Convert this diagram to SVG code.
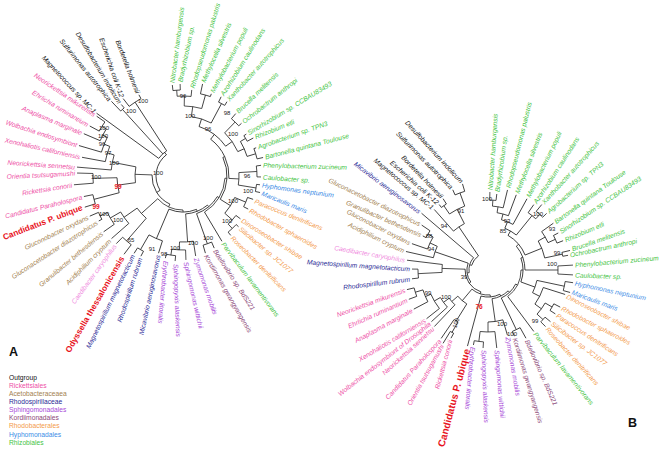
<svg xmlns="http://www.w3.org/2000/svg" width="661" height="451" viewBox="0 0 661 451">
<style>
.br circle,.br path{fill:none;stroke:#1a1a1a;stroke-width:0.75}
text{font-family:"Liberation Sans",Arial,sans-serif}
.l{font-size:6.7px;font-style:italic;dominant-baseline:central}
.e{text-anchor:end}
.big{font-size:8.4px;font-weight:bold;dominant-baseline:central}
.big2{font-size:10px;font-weight:bold;dominant-baseline:central}
.bs{font-size:6px;text-anchor:middle;dominant-baseline:central;fill:#222}
.bsr{font-size:6.5px;font-weight:bold;text-anchor:middle;dominant-baseline:central;fill:#e8141e}
.lg{font-size:6.7px}
.pl{font-size:12.5px;font-weight:bold}
.k{fill:#111}.p{fill:#ee4fa6}.cp{fill:#f08ce0}.w{fill:#a3814f}.d{fill:#2a2a96}.u{fill:#a84ad8}.m{fill:#8c4878}.o{fill:#f39a4b}.h{fill:#3c8ce6}.g{fill:#44c444}.r{fill:#e8141e}
</style>
<rect width="661" height="451" fill="#fff"/>

<g id="connectors-A" class="br" transform="translate(183 176)">
<circle r="90" stroke-dasharray="4.71 999" transform="rotate(226.2)"/>
<circle r="88" stroke-dasharray="14.13 999" transform="rotate(232.3)"/>
<circle r="30" stroke-dasharray="11 999" transform="rotate(216)"/>
<circle r="95" stroke-dasharray="10.78 999" transform="rotate(208.2)"/>
<circle r="90" stroke-dasharray="13.19 999" transform="rotate(203.1)"/>
<circle r="85" stroke-dasharray="15.87 999" transform="rotate(196.3)"/>
<circle r="79" stroke-dasharray="15.86 999" transform="rotate(190.5)"/>
<circle r="72" stroke-dasharray="15.33 999" transform="rotate(184.8)"/>
<circle r="90" stroke-dasharray="9.74 999" transform="rotate(175.4)"/>
<circle r="92" stroke-dasharray="9.47 999" transform="rotate(162.4)"/>
<circle r="66" stroke-dasharray="15.21 999" transform="rotate(165.3)"/>
<circle r="48" stroke-dasharray="15.92 999" transform="rotate(172)"/>
<circle r="92" stroke-dasharray="7.71 999" transform="rotate(151.9)"/>
<circle r="84" stroke-dasharray="13.78 999" transform="rotate(144.9)"/>
<circle r="72" stroke-dasharray="14.07 999" transform="rotate(138.8)"/>
<circle r="86" stroke-dasharray="11.41 999" transform="rotate(127)"/>
<circle r="56" stroke-dasharray="13.68 999" transform="rotate(131)"/>
<circle r="85" stroke-dasharray="6.82 999" transform="rotate(117.7)"/>
<circle r="68" stroke-dasharray="14.72 999" transform="rotate(107.6)"/>
<circle r="80" stroke-dasharray="9.49 999" transform="rotate(95.3)"/>
<circle r="74" stroke-dasharray="13.82 999" transform="rotate(88)"/>
<circle r="66" stroke-dasharray="13.82 999" transform="rotate(81)"/>
<circle r="72" stroke-dasharray="9.05 999" transform="rotate(66.6)"/>
<circle r="72" stroke-dasharray="11.06 999" transform="rotate(42.4)"/>
<circle r="66" stroke-dasharray="11.63 999" transform="rotate(36.7)"/>
<circle r="68" stroke-dasharray="10.09 999" transform="rotate(18.4)"/>
<circle r="56" stroke-dasharray="18.67 999" transform="rotate(22.6)"/>
<circle r="74" stroke-dasharray="7.23 999" transform="rotate(6.5)"/>
<circle r="74" stroke-dasharray="10.98 999" transform="rotate(-7.8)"/>
<circle r="56" stroke-dasharray="12.51 999" transform="rotate(-3.5)"/>
<circle r="76" stroke-dasharray="10.74 999" transform="rotate(-21.1)"/>
<circle r="73" stroke-dasharray="6.5 999" transform="rotate(-33.5)"/>
<circle r="67" stroke-dasharray="16.37 999" transform="rotate(-31)"/>
<circle r="75" stroke-dasharray="10.21 999" transform="rotate(-49.8)"/>
<circle r="60" stroke-dasharray="23.04 999" transform="rotate(-46)"/>
<circle r="82" stroke-dasharray="7.01 999" transform="rotate(-64.3)"/>
<circle r="84" stroke-dasharray="10.26 999" transform="rotate(-78)"/>
<circle r="86" stroke-dasharray="7.35 999" transform="rotate(-96.7)"/>
<circle r="80" stroke-dasharray="13.96 999" transform="rotate(-94.2)"/>
<circle r="70" stroke-dasharray="17.71 999" transform="rotate(-89)"/>
<circle r="60" stroke-dasharray="20.94 999" transform="rotate(-82)"/>
<circle r="52" stroke-dasharray="33.58 999" transform="rotate(-72)"/>
<circle r="46" stroke-dasharray="44.96 999" transform="rotate(-53)"/>
<circle r="44" stroke-dasharray="43.77 999" transform="rotate(-25)"/>
<circle r="42" stroke-dasharray="41.2 999" transform="rotate(3)"/>
<circle r="40" stroke-dasharray="27.37 999" transform="rotate(31)"/>
<circle r="38" stroke-dasharray="23.87 999" transform="rotate(50)"/>
<circle r="36" stroke-dasharray="28.27 999" transform="rotate(68)"/>
<circle r="34" stroke-dasharray="28.48 999" transform="rotate(90)"/>
<circle r="31" stroke-dasharray="36.25 999" transform="rotate(115)"/>
<circle r="27" stroke-dasharray="39.58 999" transform="rotate(148)"/>
<path d="M90 0H103.4" transform="rotate(226.2)"/>
<path d="M90 0H94.4" transform="rotate(229.2)"/>
<path d="M88 0H97.8" transform="rotate(232.3)"/>
<path d="M88 0H92.4" transform="rotate(241.5)"/>
<path d="M30 0H106.8" transform="rotate(216)"/>
<path d="M30 0H90" transform="rotate(227.7)"/>
<path d="M30 0H88" transform="rotate(237)"/>
<path d="M27 0H30" transform="rotate(232)"/>
<path d="M95 0H105" transform="rotate(214.7)"/>
<path d="M95 0H105.8" transform="rotate(208.2)"/>
<path d="M90 0H95" transform="rotate(211.5)"/>
<path d="M90 0H107.8" transform="rotate(203.1)"/>
<path d="M85 0H90" transform="rotate(207)"/>
<path d="M85 0H108.4" transform="rotate(196.3)"/>
<path d="M79 0H85" transform="rotate(202)"/>
<path d="M79 0H102.7" transform="rotate(190.5)"/>
<path d="M72 0H79" transform="rotate(197)"/>
<path d="M72 0H106.4" transform="rotate(184.8)"/>
<path d="M90 0H106" transform="rotate(181.6)"/>
<path d="M90 0H109.4" transform="rotate(175.4)"/>
<path d="M92 0H101.2" transform="rotate(168.3)"/>
<path d="M92 0H103" transform="rotate(162.4)"/>
<path d="M66 0H90" transform="rotate(178.5)"/>
<path d="M66 0H92" transform="rotate(165.3)"/>
<path d="M48 0H72" transform="rotate(191)"/>
<path d="M48 0H66" transform="rotate(172)"/>
<path d="M31 0H48" transform="rotate(182)"/>
<path d="M92 0H101.5" transform="rotate(156.7)"/>
<path d="M92 0H95.5" transform="rotate(151.9)"/>
<path d="M84 0H92" transform="rotate(154.3)"/>
<path d="M84 0H97" transform="rotate(144.9)"/>
<path d="M72 0H84" transform="rotate(150)"/>
<path d="M72 0H95" transform="rotate(138.8)"/>
<path d="M86 0H95" transform="rotate(134.6)"/>
<path d="M86 0H98" transform="rotate(127)"/>
<path d="M56 0H72" transform="rotate(145)"/>
<path d="M56 0H86" transform="rotate(131)"/>
<path d="M34 0H56" transform="rotate(138)"/>
<path d="M85 0H91.5" transform="rotate(122.3)"/>
<path d="M85 0H90.6" transform="rotate(117.7)"/>
<path d="M68 0H85" transform="rotate(120)"/>
<path d="M68 0H81" transform="rotate(107.6)"/>
<path d="M36 0H68" transform="rotate(113)"/>
<path d="M80 0H84" transform="rotate(102.1)"/>
<path d="M80 0H85.4" transform="rotate(95.3)"/>
<path d="M74 0H80" transform="rotate(98.7)"/>
<path d="M74 0H84" transform="rotate(88)"/>
<path d="M66 0H74" transform="rotate(93)"/>
<path d="M66 0H81" transform="rotate(81)"/>
<path d="M38 0H66" transform="rotate(86)"/>
<path d="M72 0H80.3" transform="rotate(73.8)"/>
<path d="M72 0H78.6" transform="rotate(66.6)"/>
<path d="M40 0H72" transform="rotate(70.2)"/>
<path d="M42 0H76" transform="rotate(59.2)"/>
<path d="M72 0H76.2" transform="rotate(51.2)"/>
<path d="M72 0H75.2" transform="rotate(42.4)"/>
<path d="M66 0H72" transform="rotate(46.8)"/>
<path d="M66 0H71.6" transform="rotate(36.7)"/>
<path d="M68 0H73.9" transform="rotate(18.4)"/>
<path d="M68 0H73.1" transform="rotate(26.9)"/>
<path d="M56 0H68" transform="rotate(22.6)"/>
<path d="M56 0H66" transform="rotate(41.7)"/>
<path d="M44 0H56" transform="rotate(32)"/>
<path d="M74 0H78.8" transform="rotate(12.1)"/>
<path d="M74 0H77.5" transform="rotate(6.5)"/>
<path d="M74 0H78" transform="rotate(0.7)"/>
<path d="M74 0H78.8" transform="rotate(-7.8)"/>
<path d="M56 0H74" transform="rotate(9.3)"/>
<path d="M56 0H74" transform="rotate(-3.5)"/>
<path d="M46 0H56" transform="rotate(3)"/>
<path d="M76 0H82.2" transform="rotate(-13)"/>
<path d="M76 0H78.4" transform="rotate(-21.1)"/>
<path d="M73 0H79.9" transform="rotate(-28.4)"/>
<path d="M73 0H75.9" transform="rotate(-33.5)"/>
<path d="M67 0H76" transform="rotate(-17)"/>
<path d="M67 0H73" transform="rotate(-31)"/>
<path d="M75 0H78.7" transform="rotate(-42)"/>
<path d="M75 0H81.7" transform="rotate(-49.8)"/>
<path d="M60 0H67" transform="rotate(-24)"/>
<path d="M60 0H75" transform="rotate(-46)"/>
<path d="M82 0H86.3" transform="rotate(-59.4)"/>
<path d="M82 0H87.9" transform="rotate(-64.3)"/>
<path d="M84 0H86.9" transform="rotate(-71)"/>
<path d="M84 0H94.1" transform="rotate(-78)"/>
<path d="M86 0H92" transform="rotate(-91.8)"/>
<path d="M86 0H91.6" transform="rotate(-96.7)"/>
<path d="M80 0H86" transform="rotate(-94.2)"/>
<path d="M80 0H86.5" transform="rotate(-84.2)"/>
<path d="M70 0H80" transform="rotate(-89)"/>
<path d="M70 0H84" transform="rotate(-74.5)"/>
<path d="M60 0H70" transform="rotate(-82)"/>
<path d="M60 0H82" transform="rotate(-62)"/>
<path d="M52 0H60" transform="rotate(-72)"/>
<path d="M52 0H60" transform="rotate(-35)"/>
<path d="M46 0H52" transform="rotate(-53)"/>
<path d="M44 0H46" transform="rotate(-25)"/>
<path d="M42 0H44" transform="rotate(3)"/>
<path d="M40 0H42" transform="rotate(31)"/>
<path d="M38 0H40" transform="rotate(50)"/>
<path d="M36 0H38" transform="rotate(68)"/>
<path d="M34 0H36" transform="rotate(90)"/>
<path d="M31 0H34" transform="rotate(115)"/>
<path d="M27 0H31" transform="rotate(148)"/>
</g>

<g id="connectors-B" class="br" transform="translate(488 270)">
<circle r="82" stroke-dasharray="10.3 999" transform="rotate(246.3)"/>
<circle r="78" stroke-dasharray="6.13 999" transform="rotate(233.3)"/>
<circle r="68" stroke-dasharray="17.21 999" transform="rotate(235.5)"/>
<circle r="52" stroke-dasharray="13.25 999" transform="rotate(228.4)"/>
<circle r="70" stroke-dasharray="7.94 999" transform="rotate(207.6)"/>
<circle r="64" stroke-dasharray="13.29 999" transform="rotate(199.1)"/>
<circle r="56" stroke-dasharray="12.02 999" transform="rotate(192.7)"/>
<circle r="70" stroke-dasharray="8.92 999" transform="rotate(173.4)"/>
<circle r="46" stroke-dasharray="7.95 999" transform="rotate(177)"/>
<circle r="76" stroke-dasharray="8.89 999" transform="rotate(159.7)"/>
<circle r="68" stroke-dasharray="12.82 999" transform="rotate(152.2)"/>
<circle r="62" stroke-dasharray="16.66 999" transform="rotate(141.6)"/>
<circle r="55" stroke-dasharray="11.9 999" transform="rotate(137.6)"/>
<circle r="48" stroke-dasharray="8.8 999" transform="rotate(133.5)"/>
<circle r="72" stroke-dasharray="3.77 999" transform="rotate(118.5)"/>
<circle r="60" stroke-dasharray="4.61 999" transform="rotate(120)"/>
<circle r="40" stroke-dasharray="11.87 999" transform="rotate(122)"/>
<circle r="72" stroke-dasharray="9.3 999" transform="rotate(93.6)"/>
<circle r="62" stroke-dasharray="14.82 999" transform="rotate(83.6)"/>
<circle r="52" stroke-dasharray="15.07 999" transform="rotate(73.4)"/>
<circle r="66" stroke-dasharray="8.52 999" transform="rotate(60.9)"/>
<circle r="74" stroke-dasharray="6.33 999" transform="rotate(39.6)"/>
<circle r="74" stroke-dasharray="7.62 999" transform="rotate(27.2)"/>
<circle r="66" stroke-dasharray="13.82 999" transform="rotate(30)"/>
<circle r="58" stroke-dasharray="18.63 999" transform="rotate(17.6)"/>
<circle r="78" stroke-dasharray="9.26 999" transform="rotate(8.5)"/>
<circle r="50" stroke-dasharray="13.09 999" transform="rotate(12)"/>
<circle r="70" stroke-dasharray="8.06 999" transform="rotate(-3.3)"/>
<circle r="76" stroke-dasharray="3.98 999" transform="rotate(-13.4)"/>
<circle r="74" stroke-dasharray="8.39 999" transform="rotate(-27.8)"/>
<circle r="66" stroke-dasharray="12.79 999" transform="rotate(-35.6)"/>
<circle r="58" stroke-dasharray="18.22 999" transform="rotate(-30)"/>
<circle r="76" stroke-dasharray="8.75 999" transform="rotate(-50.6)"/>
<circle r="70" stroke-dasharray="9.77 999" transform="rotate(-55)"/>
<circle r="70" stroke-dasharray="6.35 999" transform="rotate(-88.6)"/>
<circle r="64" stroke-dasharray="10.83 999" transform="rotate(-86)"/>
<circle r="58" stroke-dasharray="11.74 999" transform="rotate(-81)"/>
<circle r="52" stroke-dasharray="12.43 999" transform="rotate(-75)"/>
<circle r="45" stroke-dasharray="13.35 999" transform="rotate(-68)"/>
<circle r="40" stroke-dasharray="26.53 999" transform="rotate(-60)"/>
<circle r="37" stroke-dasharray="25.83 999" transform="rotate(-40)"/>
<circle r="35" stroke-dasharray="24.43 999" transform="rotate(-20)"/>
<circle r="33" stroke-dasharray="30.7 999" transform="rotate(0)"/>
<circle r="31" stroke-dasharray="20.34 999" transform="rotate(27)"/>
<circle r="29" stroke-dasharray="18.22 999" transform="rotate(46)"/>
<circle r="27" stroke-dasharray="19.37 999" transform="rotate(64)"/>
<circle r="25" stroke-dasharray="19.63 999" transform="rotate(85)"/>
<circle r="23" stroke-dasharray="29.71 999" transform="rotate(108)"/>
<circle r="21" stroke-dasharray="19.79 999" transform="rotate(145)"/>
<circle r="19" stroke-dasharray="16.08 999" transform="rotate(172)"/>
<circle r="17" stroke-dasharray="11.87 999" transform="rotate(196)"/>
<path d="M82 0H89.8" transform="rotate(253.5)"/>
<path d="M82 0H87.6" transform="rotate(246.3)"/>
<path d="M78 0H84.3" transform="rotate(237.8)"/>
<path d="M78 0H81.6" transform="rotate(233.3)"/>
<path d="M68 0H82" transform="rotate(250)"/>
<path d="M68 0H78" transform="rotate(235.5)"/>
<path d="M52 0H68" transform="rotate(243)"/>
<path d="M52 0H80.9" transform="rotate(228.4)"/>
<path d="M17 0H52" transform="rotate(236)"/>
<path d="M19 0H87.4" transform="rotate(220.5)"/>
<path d="M70 0H80.1" transform="rotate(214.1)"/>
<path d="M70 0H73.6" transform="rotate(207.6)"/>
<path d="M64 0H70" transform="rotate(211)"/>
<path d="M64 0H80.5" transform="rotate(199.1)"/>
<path d="M56 0H64" transform="rotate(205)"/>
<path d="M56 0H84.1" transform="rotate(192.7)"/>
<path d="M21 0H56" transform="rotate(199)"/>
<path d="M70 0H76" transform="rotate(180.7)"/>
<path d="M70 0H76.5" transform="rotate(173.4)"/>
<path d="M46 0H81.6" transform="rotate(186.9)"/>
<path d="M46 0H70" transform="rotate(177)"/>
<path d="M23 0H46" transform="rotate(182)"/>
<path d="M76 0H83.4" transform="rotate(166.4)"/>
<path d="M76 0H84.4" transform="rotate(159.7)"/>
<path d="M68 0H76" transform="rotate(163)"/>
<path d="M68 0H83.9" transform="rotate(152.2)"/>
<path d="M62 0H68" transform="rotate(157)"/>
<path d="M62 0H78.4" transform="rotate(141.6)"/>
<path d="M55 0H62" transform="rotate(150)"/>
<path d="M55 0H76.6" transform="rotate(137.6)"/>
<path d="M48 0H55" transform="rotate(144)"/>
<path d="M48 0H77.9" transform="rotate(133.5)"/>
<path d="M72 0H86" transform="rotate(121.5)"/>
<path d="M72 0H77.6" transform="rotate(118.5)"/>
<path d="M60 0H82.9" transform="rotate(124.4)"/>
<path d="M60 0H72" transform="rotate(120)"/>
<path d="M40 0H48" transform="rotate(139)"/>
<path d="M40 0H60" transform="rotate(122)"/>
<path d="M25 0H40" transform="rotate(130)"/>
<path d="M27 0H78.8" transform="rotate(105.1)"/>
<path d="M72 0H76.4" transform="rotate(101)"/>
<path d="M72 0H78.2" transform="rotate(93.6)"/>
<path d="M62 0H72" transform="rotate(97.3)"/>
<path d="M62 0H78.5" transform="rotate(83.6)"/>
<path d="M52 0H62" transform="rotate(90)"/>
<path d="M52 0H67.9" transform="rotate(73.4)"/>
<path d="M29 0H52" transform="rotate(82)"/>
<path d="M66 0H71.2" transform="rotate(68.3)"/>
<path d="M66 0H78.1" transform="rotate(60.9)"/>
<path d="M31 0H66" transform="rotate(64.6)"/>
<path d="M33 0H76.6" transform="rotate(53.3)"/>
<path d="M74 0H80.7" transform="rotate(44.5)"/>
<path d="M74 0H81.1" transform="rotate(39.6)"/>
<path d="M74 0H80.4" transform="rotate(33.1)"/>
<path d="M74 0H81.2" transform="rotate(27.2)"/>
<path d="M66 0H74" transform="rotate(42)"/>
<path d="M66 0H74" transform="rotate(30)"/>
<path d="M58 0H66" transform="rotate(36)"/>
<path d="M58 0H80.9" transform="rotate(17.6)"/>
<path d="M78 0H85.1" transform="rotate(15.3)"/>
<path d="M78 0H86" transform="rotate(8.5)"/>
<path d="M50 0H78" transform="rotate(12)"/>
<path d="M50 0H58" transform="rotate(27)"/>
<path d="M35 0H50" transform="rotate(20)"/>
<path d="M70 0H85.1" transform="rotate(3.3)"/>
<path d="M70 0H85.1" transform="rotate(-3.3)"/>
<path d="M37 0H70" transform="rotate(0)"/>
<path d="M76 0H81.4" transform="rotate(-10.4)"/>
<path d="M76 0H84.3" transform="rotate(-13.4)"/>
<path d="M74 0H80.6" transform="rotate(-21.3)"/>
<path d="M74 0H79.4" transform="rotate(-27.8)"/>
<path d="M66 0H74" transform="rotate(-24.5)"/>
<path d="M66 0H80.4" transform="rotate(-35.6)"/>
<path d="M58 0H76" transform="rotate(-12)"/>
<path d="M58 0H66" transform="rotate(-30)"/>
<path d="M76 0H81.5" transform="rotate(-44)"/>
<path d="M76 0H84.7" transform="rotate(-50.6)"/>
<path d="M70 0H76" transform="rotate(-47)"/>
<path d="M70 0H79.8" transform="rotate(-55)"/>
<path d="M70 0H76.5" transform="rotate(-83.4)"/>
<path d="M70 0H78" transform="rotate(-88.6)"/>
<path d="M64 0H70" transform="rotate(-86)"/>
<path d="M64 0H82.4" transform="rotate(-76.3)"/>
<path d="M58 0H64" transform="rotate(-81)"/>
<path d="M58 0H80.3" transform="rotate(-69.4)"/>
<path d="M52 0H58" transform="rotate(-75)"/>
<path d="M52 0H81.2" transform="rotate(-61.3)"/>
<path d="M45 0H52" transform="rotate(-68)"/>
<path d="M45 0H70" transform="rotate(-51)"/>
<path d="M40 0H45" transform="rotate(-60)"/>
<path d="M40 0H58" transform="rotate(-22)"/>
<path d="M37 0H40" transform="rotate(-40)"/>
<path d="M35 0H37" transform="rotate(-20)"/>
<path d="M33 0H35" transform="rotate(0)"/>
<path d="M31 0H33" transform="rotate(27)"/>
<path d="M29 0H31" transform="rotate(46)"/>
<path d="M27 0H29" transform="rotate(64)"/>
<path d="M25 0H27" transform="rotate(85)"/>
<path d="M23 0H25" transform="rotate(108)"/>
<path d="M21 0H23" transform="rotate(145)"/>
<path d="M19 0H21" transform="rotate(172)"/>
<path d="M17 0H19" transform="rotate(196)"/>
</g>

<g id="tree-A-labels">
<g id="a-magnetococcus"><text class="l e k" transform="translate(95 112) rotate(47)">Magnetococcus sp. MC-1</text></g>
<g id="a-sulfurimonas"><text class="l e k" transform="translate(110 100) rotate(51)">Sulfurimonas autotrophica</text></g>
<g id="a-desulfobacterium"><text class="l e k" transform="translate(120 103) rotate(59)">Desulfobacterium indolicum</text></g>
<g id="a-escherichia"><text class="l e k" transform="translate(122 97) rotate(71)">Escherichia coli K-12</text></g>
<g id="a-bordetella"><text class="l e k" transform="translate(138 93) rotate(69)">Bordetella holmesii</text></g>
<g id="a-nmikurensis"><text class="l e p" transform="translate(95 115) rotate(34)">Neorickettsia mikurensis</text></g>
<g id="a-ehrlichia"><text class="l e p" transform="translate(88 125) rotate(31)">Ehrlichia ruminantium</text></g>
<g id="a-anaplasma"><text class="l e p" transform="translate(82 133) rotate(23)">Anaplasma marginale</text></g>
<g id="a-wolbachia"><text class="l e p" transform="translate(77 145) rotate(18)">Wolbachia endosymbiont</text></g>
<g id="a-xenohaliotis"><text class="l e p" transform="translate(80 157) rotate(13)">Xenohaliotis californiensis</text></g>
<g id="a-nsennetsu"><text class="l e p" transform="translate(75 167) rotate(4)">Neorickettsia sennetsu</text></g>
<g id="a-orientia"><text class="l e p" transform="translate(75 173) rotate(-3)">Orientia tsutsugamushi</text></g>
<g id="a-rickettsia"><text class="l e p" transform="translate(72 185) rotate(-9)">Rickettsia conorii</text></g>
<g id="a-paraholospora"><text class="l e p" transform="translate(82 197) rotate(-14)">Candidatus Paraholospora</text></g>
<g id="a-pubique"><text class="big e r" transform="translate(82 207) rotate(-21)">Candidatus P. ubique</text></g>
<g id="a-gluconobacter"><text class="l e w" transform="translate(88 217) rotate(-26)">Gluconobacter oxydans</text></g>
<g id="a-gluconacetobacter"><text class="l e w" transform="translate(97 222) rotate(-33)">Gluconacetobacter diazotrophicus</text></g>
<g id="a-granulibacter"><text class="l e w" transform="translate(102 233) rotate(-40)">Granulibacter bethesdensis</text></g>
<g id="a-acidiphilium"><text class="l e w" transform="translate(110 240) rotate(-45)">Acidiphilium cryptum</text></g>
<g id="a-caedibacter"><text class="l e cp" transform="translate(115 245) rotate(-54)">Caedibacter caryophilus</text></g>
<g id="a-odyssella"><text class="big e r" transform="translate(122 257) rotate(-60)">Odyssella thessalonicensis</text></g>
<g id="a-magnetospirillum"><text class="l e d" transform="translate(133 255) rotate(-64)">Magnetospirillum magnetotacticum</text></g>
<g id="a-rhodospirillum"><text class="l e d" transform="translate(140 258) rotate(-72)">Rhodospirillum rubrum</text></g>
<g id="a-micavibrio"><text class="l e d" transform="translate(158 255) rotate(-78)">Micavibrio aeruginosavorus</text></g>
<g id="a-erythrobacter"><text class="l u" transform="translate(166 261) rotate(95)">Erythrobacter litoralis</text></g>
<g id="a-sphingopyxis"><text class="l u" transform="translate(176 264) rotate(88)">Sphingopyxis alaskensis</text></g>
<g id="a-sphingomonas"><text class="l u" transform="translate(186 262) rotate(77)">Sphingomonas wittichii</text></g>
<g id="a-zymomonas"><text class="l u" transform="translate(196 258) rotate(71)">Zymomonas mobilis</text></g>
<g id="a-kordiimonas"><text class="l m" transform="translate(206 255) rotate(60)">Kordiimonas gwangyangensis</text></g>
<g id="a-bdellovibrio"><text class="l m" transform="translate(215 250) rotate(57)">Bdellovibrio sp. BdS221</text></g>
<g id="a-parvibaculum"><text class="l g" transform="translate(223 243) rotate(53)">Parvibaculum lavamentivorans</text></g>
<g id="a-roseobacter"><text class="l o" transform="translate(232 237) rotate(45)">Roseobacter denitrificans</text></g>
<g id="a-silicibacter"><text class="l o" transform="translate(240 228) rotate(40)">Silicibacter sp. JC1077</text></g>
<g id="a-dinoroseobacter"><text class="l o" transform="translate(242 220) rotate(32)">Dinoroseobacter shibae</text></g>
<g id="a-rhodobacter"><text class="l o" transform="translate(250 210) rotate(29)">Rhodobacter sphaeroides</text></g>
<g id="a-paracoccus"><text class="l o" transform="translate(255 201) rotate(22)">Paracoccus denitrificans</text></g>
<g id="a-maricaulis"><text class="l h" transform="translate(262 193) rotate(22)">Maricaulis maris</text></g>
<g id="a-hyphomonas"><text class="l h" transform="translate(262 185) rotate(8)">Hyphomonas neptunium</text></g>
<g id="a-caulobacter"><text class="l g" transform="translate(263 177) rotate(4)">Caulobacter sp.</text></g>
<g id="a-phenylobacterium"><text class="l g" transform="translate(263 165) rotate(1.5)">Phenylobacterium zucineum</text></g>
<g id="a-bartonella"><text class="l g" transform="translate(265 157) rotate(-14.5)">Bartonella quintana Toulouse</text></g>
<g id="a-agrobacterium"><text class="l g" transform="translate(258 147) rotate(-19)">Agrobacterium sp. TPN3</text></g>
<g id="a-rhizobium"><text class="l g" transform="translate(255 137) rotate(-22)">Rhizobium etli</text></g>
<g id="a-sinorhizobium"><text class="l g" transform="translate(248 133) rotate(-31)">Sinorhizobium sp. CCBAU83493</text></g>
<g id="a-ochrobactrum"><text class="l g" transform="translate(243 122) rotate(-38.6)">Ochrobactrum anthropi</text></g>
<g id="a-brucella"><text class="l g" transform="translate(237 112) rotate(-44)">Brucella melitensis</text></g>
<g id="a-xanthobacter"><text class="l g" transform="translate(228 100) rotate(-48)">Xanthobacter autotrophicus</text></g>
<g id="a-azorhizobium"><text class="l g" transform="translate(222 95) rotate(-58)">Azorhizobium caulinodans</text></g>
<g id="a-methylobacterium"><text class="l g" transform="translate(212 92) rotate(-62)">Methylobacterium populi</text></g>
<g id="a-methylocella"><text class="l g" transform="translate(203 82) rotate(-66)">Methylocella silvestris</text></g>
<g id="a-rhodopseudomonas"><text class="l g" transform="translate(192 88) rotate(-73)">Rhodopseudomonas palustris</text></g>
<g id="a-bradyrhizobium"><text class="l g" transform="translate(180 82) rotate(-78)">Bradyrhizobium sp.</text></g>
<g id="a-nitrobacter"><text class="l g" transform="translate(172 83) rotate(-82.7)">Nitrobacter hamburgensis</text></g>
</g>

<g id="tree-A-bootstrap">
<text class="bs" x="143" y="101">100</text>
<text class="bs" x="131" y="111">100</text>
<text class="bs" x="104" y="128">100</text>
<text class="bs" x="103" y="136">100</text>
<text class="bs" x="102" y="144">96</text>
<text class="bs" x="108" y="153">97</text>
<text class="bs" x="114" y="163">100</text>
<text class="bs" x="158" y="173">100</text>
<text class="bs" x="96" y="177">100</text>
<text class="bsr" x="118" y="186">99</text>
<text class="bsr" x="96" y="206">99</text>
<text class="bs" x="104" y="214">100</text>
<text class="bs" x="118" y="220">100</text>
<text class="bs" x="131" y="240">65</text>
<text class="bs" x="152" y="249">91</text>
<text class="bs" x="164" y="254">98</text>
<text class="bs" x="175" y="248">100</text>
<text class="bs" x="193" y="243">100</text>
<text class="bs" x="208" y="238">100</text>
<text class="bs" x="227" y="221">100</text>
<text class="bs" x="233" y="201">100</text>
<text class="bs" x="248" y="191">100</text>
<text class="bs" x="247" y="176">96</text>
<text class="bs" x="233" y="134">100</text>
<text class="bs" x="208" y="129">96</text>
<text class="bs" x="227" y="113">98</text>
<text class="bs" x="190" y="116">100</text>
<text class="bs" x="183" y="96">96</text>
</g>

<g id="tree-B-labels">
<g id="b-desulfobacterium"><text class="l e k" transform="translate(462 182) rotate(47.5)">Desulfobacterium indolicum</text></g>
<g id="b-sulfurimonas"><text class="l e k" transform="translate(452 188) rotate(45.5)">Sulfurimonas autotrophica</text></g>
<g id="b-bordetella"><text class="l e k" transform="translate(442 197) rotate(46)">Bordetella holmesii</text></g>
<g id="b-escherichia"><text class="l e k" transform="translate(438 203) rotate(41.5)">Escherichia coli K-12</text></g>
<g id="b-magnetococcus"><text class="l e k" transform="translate(433 208) rotate(40)">Magnetococcus sp. MC-1</text></g>
<g id="b-micavibrio"><text class="l e d" transform="translate(420 212) rotate(37)">Micavibrio aeruginosavorus</text></g>
<g id="b-gluconacetobacter"><text class="l e w" transform="translate(420 224) rotate(26)">Gluconacetobacter diazotrophicus</text></g>
<g id="b-granulibacter"><text class="l e w" transform="translate(421 235) rotate(24)">Granulibacter bethesdensis</text></g>
<g id="b-gluconobacter"><text class="l e w" transform="translate(410 243) rotate(27)">Gluconobacter oxydans</text></g>
<g id="b-acidiphilium"><text class="l e w" transform="translate(404 251) rotate(26)">Acidiphilium cryptum</text></g>
<g id="b-caedibacter"><text class="l e cp" transform="translate(405 260) rotate(10)">Caedibacter caryophilus</text></g>
<g id="b-magnetospirillum"><text class="l e d" transform="translate(410 269) rotate(4)">Magnetospirillum magnetotacticum</text></g>
<g id="b-rhodospirillum"><text class="l e d" transform="translate(410 279) rotate(-7)">Rhodospirillum rubrum</text></g>
<g id="b-nmikurensis"><text class="l e p" transform="translate(405 290) rotate(-20)">Neorickettsia mikurensis</text></g>
<g id="b-ehrlichia"><text class="l e p" transform="translate(407 300) rotate(-24)">Ehrlichia ruminantium</text></g>
<g id="b-anaplasma"><text class="l e p" transform="translate(412 310) rotate(-28.5)">Anaplasma marginale</text></g>
<g id="b-xenohaliotis"><text class="l e p" transform="translate(425 320) rotate(-31)">Xenohaliotis californiensis</text></g>
<g id="b-wolbachia"><text class="l e p" transform="translate(430 323) rotate(-38)">Wolbachia endosymbiont of Drosophila</text></g>
<g id="b-nsennetsu"><text class="l e p" transform="translate(433 328) rotate(-42.5)">Neorickettsia sennetsu</text></g>
<g id="b-paraholospora"><text class="l e p" transform="translate(440 340) rotate(-47.5)">Candidatus Paraholospora</text></g>
<g id="b-orientia"><text class="l e p" transform="translate(442 345) rotate(-61)">Orientia tsutsugamushi</text></g>
<g id="b-rickettsia"><text class="l e p" transform="translate(450 340) rotate(-75)">Rickettsia conorii</text></g>
<g id="b-pubique"><text class="big2 e r" transform="translate(467 349) rotate(-75)">Candidatus P. ubique</text></g>
<g id="b-erythrobacter"><text class="l u" transform="translate(473 347) rotate(95)">Erythrobacter litoralis</text></g>
<g id="b-sphingopyxis"><text class="l u" transform="translate(484 350) rotate(88)">Sphingopyxis alaskensis</text></g>
<g id="b-sphingomonas"><text class="l u" transform="translate(497 350) rotate(85)">Sphingomonas wittichii</text></g>
<g id="b-zymomonas"><text class="l u" transform="translate(508 337) rotate(80)">Zymomonas mobilis</text></g>
<g id="b-kordiimonas"><text class="l m" transform="translate(515 338) rotate(73)">Kordiimonas gwangyangensis</text></g>
<g id="b-bdellovibrio"><text class="l m" transform="translate(527 340) rotate(66)">Bdellovibrio sp. BdS221</text></g>
<g id="b-parvibaculum"><text class="l g" transform="translate(535 333) rotate(51)">Parvibaculum lavamentivorans</text></g>
<g id="b-roseobacter"><text class="l o" transform="translate(547 328) rotate(48)">Roseobacter denitrificans</text></g>
<g id="b-silicibacter"><text class="l o" transform="translate(552 323) rotate(37)">Silicibacter sp. JC1077</text></g>
<g id="b-paracoccus"><text class="l o" transform="translate(557 315) rotate(33)">Paracoccus denitrificans</text></g>
<g id="b-rhodobacter"><text class="l o" transform="translate(562 308) rotate(27)">Rhodobacter sphaeroides</text></g>
<g id="b-dinoroseobacter"><text class="l o" transform="translate(567 296) rotate(27)">Dinoroseobacter shibae</text></g>
<g id="b-maricaulis"><text class="l h" transform="translate(572 292) rotate(20)">Maricaulis maris</text></g>
<g id="b-hyphomonas"><text class="l h" transform="translate(575 283) rotate(12)">Hyphomonas neptunium</text></g>
<g id="b-caulobacter"><text class="l g" transform="translate(575 275) rotate(2)">Caulobacter sp.</text></g>
<g id="b-phenylobacterium"><text class="l g" transform="translate(575 265) rotate(-5)">Phenylobacterium zucineum</text></g>
<g id="b-ochrobactrum"><text class="l g" transform="translate(570 255) rotate(-12)">Ochrobactrum anthropi</text></g>
<g id="b-brucella"><text class="l g" transform="translate(572 249) rotate(-19)">Brucella melitensis</text></g>
<g id="b-rhizobium"><text class="l g" transform="translate(565 240) rotate(-23)">Rhizobium etli</text></g>
<g id="b-sinorhizobium"><text class="l g" transform="translate(560 232) rotate(-34)">Sinorhizobium sp. CCBAU83493</text></g>
<g id="b-bartonella"><text class="l g" transform="translate(555 222) rotate(-36)">Bartonella quintana Toulouse</text></g>
<g id="b-agrobacterium"><text class="l g" transform="translate(548 212) rotate(-42)">Agrobacterium sp. TPN3</text></g>
<g id="b-xanthobacter"><text class="l g" transform="translate(543 203) rotate(-48)">Xanthobacter autotrophicus</text></g>
<g id="b-azorhizobium"><text class="l g" transform="translate(535 203) rotate(-57)">Azorhizobium caulinodans</text></g>
<g id="b-methylobacterium"><text class="l g" transform="translate(528 197) rotate(-64)">Methylobacterium populi</text></g>
<g id="b-methylocella"><text class="l g" transform="translate(517 193) rotate(-69)">Methylocella silvestris</text></g>
<g id="b-rhodopseudomonas"><text class="l g" transform="translate(508 188) rotate(-76)">Rhodopseudomonas palustris</text></g>
<g id="b-bradyrhizobium"><text class="l g" transform="translate(497 192) rotate(-82)">Bradyrhizobium sp.</text></g>
<g id="b-nitrobacter"><text class="l g" transform="translate(490 190) rotate(-86)">Nitrobacter hamburgensis</text></g>
</g>

<g id="tree-B-bootstrap">
<text class="bs" x="461" y="211">91</text>
<text class="bs" x="444" y="226">94</text>
<text class="bs" x="429" y="236">88</text>
<text class="bs" x="431" y="249">94</text>
<text class="bs" x="464" y="277">39</text>
<text class="bs" x="428" y="293">99</text>
<text class="bs" x="446" y="297">100</text>
<text class="bs" transform="translate(456 323) rotate(-70)">100</text>
<text class="bsr" x="479" y="306">76</text>
<text class="bs" x="487" y="199">100</text>
<text class="bs" x="538" y="214">100</text>
<text class="bs" x="507" y="221">93</text>
<text class="bs" x="503" y="231">85</text>
<text class="bs" x="552" y="229">93</text>
<text class="bs" x="557" y="253">99</text>
<text class="bs" x="552" y="264">100</text>
<text class="bs" x="502" y="324">100</text>
<text class="bs" x="512" y="334">100</text>
<text class="bs" x="535" y="321">99</text>
</g>

<g id="panel-labels">
<text class="pl k" x="9" y="356">A</text>
<text class="pl k" x="628" y="427">B</text>
</g>

<g id="legend">
<text class="lg k" x="9" y="379.7">Outgroup</text>
<text class="lg p" x="9" y="387.7">Rickettsiales</text>
<text class="lg w" x="9" y="396.1">Acetobacteraceaea</text>
<text class="lg d" x="9" y="404.1">Rhodospirillaceae</text>
<text class="lg u" x="9" y="412.4">Sphingomonadales</text>
<text class="lg m" x="9" y="420.4">Kordiimonadales</text>
<text class="lg o" x="9" y="428.4">Rhodobacterales</text>
<text class="lg h" x="9" y="436.7">Hyphomonadales</text>
<text class="lg g" x="9" y="444.7">Rhizobiales</text>
</g>
</svg>
